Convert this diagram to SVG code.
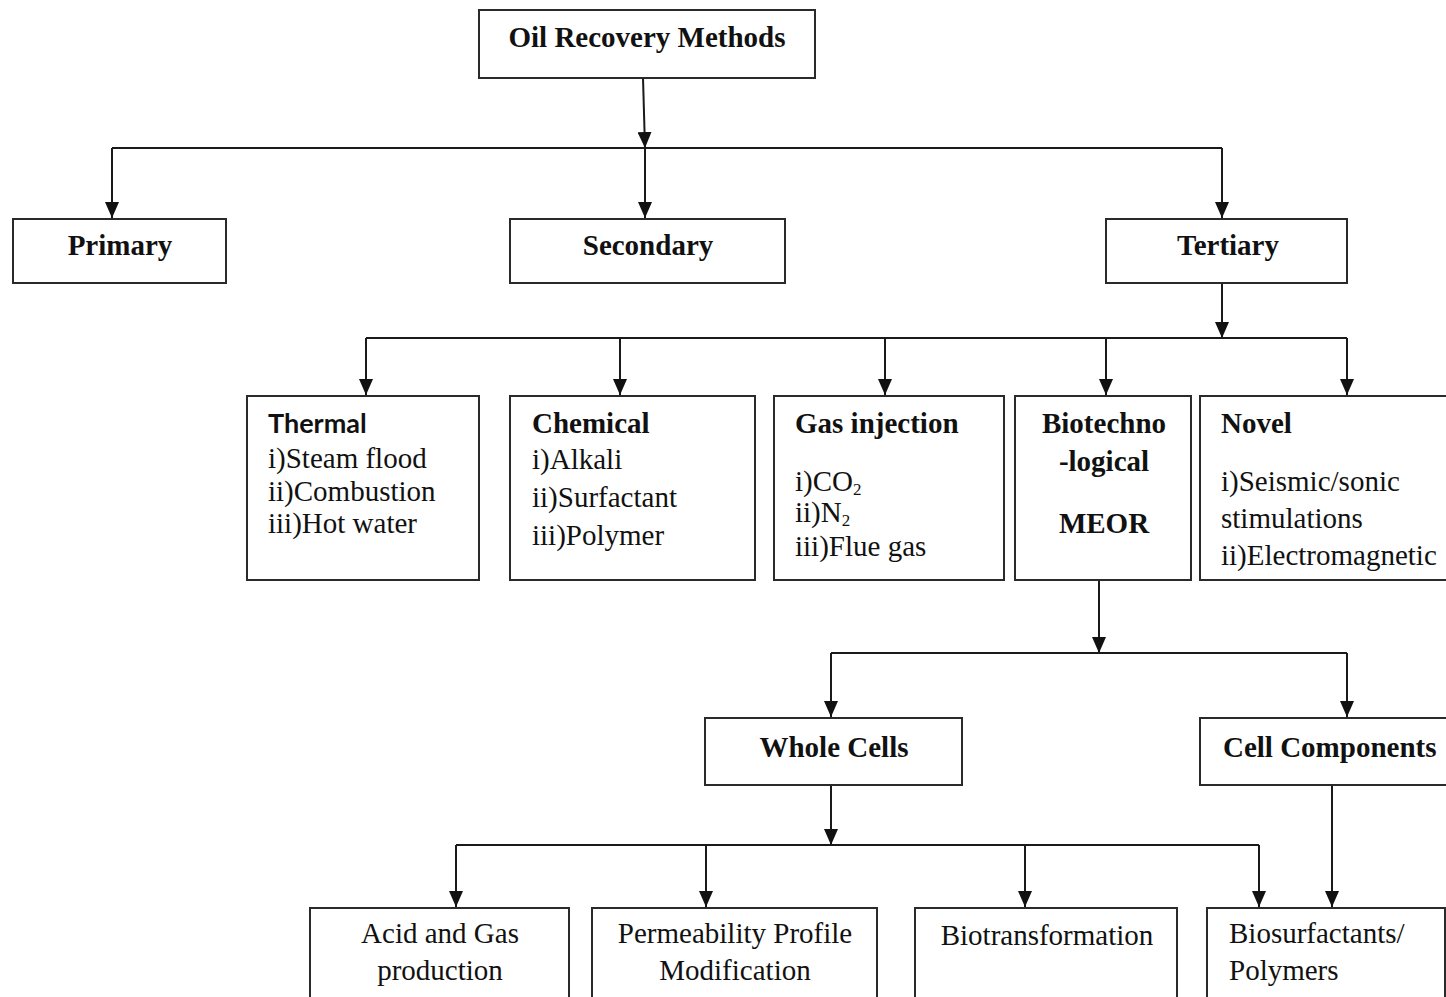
<svg xmlns="http://www.w3.org/2000/svg" width="1446" height="997" viewBox="0 0 1446 997">
<style>
.box{fill:#fff;stroke:#2a2a2a;stroke-width:2}
.hb{font-family:"Liberation Serif","Times New Roman",serif;font-weight:700;font-size:29px;fill:#111}
.t{font-family:"Liberation Serif","DejaVu Serif",serif;font-weight:400;font-style:normal;font-size:29px;fill:#111}
.sb{font-family:Lato,"Open Sans",sans-serif;font-weight:bold;font-size:27px;fill:#111}
.c{text-anchor:middle}
.ln{fill:none;stroke:#1a1a1a;stroke-width:2}
.ar{fill:none;stroke:#1a1a1a;stroke-width:2;marker-end:url(#ah)}
</style>
<defs>
<marker id="ah" viewBox="0 0 16 14" refX="16" refY="7" markerWidth="16" markerHeight="14" markerUnits="userSpaceOnUse" orient="auto">
<path d="M0,0 L16,7 L0,14 z" fill="#111"/>
</marker>
</defs>
<rect width="1446" height="997" fill="#fff"/>
<g id="connectors">
<path class="ar" d="M643,78 L645,148"/>
<path class="ln" d="M112,148 H1222"/>
<path class="ar" d="M112,148 V218"/>
<path class="ar" d="M645,148 V218"/>
<path class="ar" d="M1222,148 V218"/>
<path class="ar" d="M1222,283 V338"/>
<path class="ln" d="M366,338 H1347"/>
<path class="ar" d="M366,338 V395"/>
<path class="ar" d="M620,338 V395"/>
<path class="ar" d="M885,338 V395"/>
<path class="ar" d="M1106,338 V395"/>
<path class="ar" d="M1347,338 V395"/>
<path class="ar" d="M1099,580 V653"/>
<path class="ln" d="M831,653 H1347"/>
<path class="ar" d="M831,653 V717"/>
<path class="ar" d="M1347,653 V717"/>
<path class="ar" d="M831,785 V845"/>
<path class="ln" d="M456,845 H1259"/>
<path class="ar" d="M456,845 V907"/>
<path class="ar" d="M706,845 V907"/>
<path class="ar" d="M1025,845 V907"/>
<path class="ar" d="M1259,845 V907"/>
<path class="ar" d="M1332,785 V907"/>
</g>
<g id="oil-recovery-methods">
<rect class="box" x="479" y="10" width="336" height="68"/>
<text class="hb c" x="647" y="47">Oil Recovery Methods</text>
</g>
<g id="primary">
<rect class="box" x="13" y="219" width="213" height="64"/>
<text class="hb c" x="120" y="255">Primary</text>
</g>
<g id="secondary">
<rect class="box" x="510" y="219" width="275" height="64"/>
<text class="hb c" x="648" y="255">Secondary</text>
</g>
<g id="tertiary">
<rect class="box" x="1106" y="219" width="241" height="64"/>
<text class="hb c" x="1228" y="255">Tertiary</text>
</g>
<g id="thermal">
<rect class="box" x="247" y="396" width="232" height="184"/>
<text class="sb" x="268" y="433">Thermal</text>
<text class="t" x="268" y="468">i)Steam flood</text>
<text class="t" x="268" y="501">ii)Combustion</text>
<text class="t" x="268" y="533">iii)Hot water</text>
</g>
<g id="chemical">
<rect class="box" x="510" y="396" width="245" height="184"/>
<text class="hb" x="532" y="433">Chemical</text>
<text class="t" x="532" y="469">i)Alkali</text>
<text class="t" x="532" y="507">ii)Surfactant</text>
<text class="t" x="532" y="545">iii)Polymer</text>
</g>
<g id="gas-injection">
<rect class="box" x="774" y="396" width="230" height="184"/>
<text class="hb" x="795" y="433">Gas injection</text>
<text class="t" x="795" y="491">i)CO<tspan font-size="17" dy="4">2</tspan></text>
<text class="t" x="795" y="522">ii)N<tspan font-size="17" dy="4">2</tspan></text>
<text class="t" x="795" y="556">iii)Flue gas</text>
</g>
<g id="biotechnological">
<rect class="box" x="1015" y="396" width="176" height="184"/>
<text class="hb c" x="1104" y="433">Biotechno</text>
<text class="hb c" x="1104" y="471">-logical</text>
<text class="hb c" x="1104" y="533">MEOR</text>
</g>
<g id="novel">
<rect class="box" x="1200" y="396" width="260" height="184"/>
<text class="hb" x="1221" y="433">Novel</text>
<text class="t" x="1221" y="491">i)Seismic/sonic</text>
<text class="t" x="1221" y="528">stimulations</text>
<text class="t" x="1221" y="565">ii)Electromagnetic</text>
</g>
<g id="whole-cells">
<rect class="box" x="705" y="718" width="257" height="67"/>
<text class="hb c" x="834" y="757">Whole Cells</text>
</g>
<g id="cell-components">
<rect class="box" x="1200" y="718" width="260" height="67"/>
<text class="hb" x="1223" y="757">Cell Components</text>
</g>
<g id="acid-gas">
<rect class="box" x="310" y="908" width="259" height="110"/>
<text class="t c" x="440" y="943">Acid and Gas</text>
<text class="t c" x="440" y="980">production</text>
</g>
<g id="permeability">
<rect class="box" x="592" y="908" width="285" height="110"/>
<text class="t c" x="735" y="943">Permeability Profile</text>
<text class="t c" x="735" y="980">Modification</text>
</g>
<g id="biotransformation">
<rect class="box" x="915" y="908" width="262" height="110"/>
<text class="t c" x="1047" y="945">Biotransformation</text>
</g>
<g id="biosurfactants">
<rect class="box" x="1207" y="908" width="238" height="110"/>
<text class="t" x="1229" y="943">Biosurfactants/</text>
<text class="t" x="1229" y="980">Polymers</text>
</g>
</svg>
